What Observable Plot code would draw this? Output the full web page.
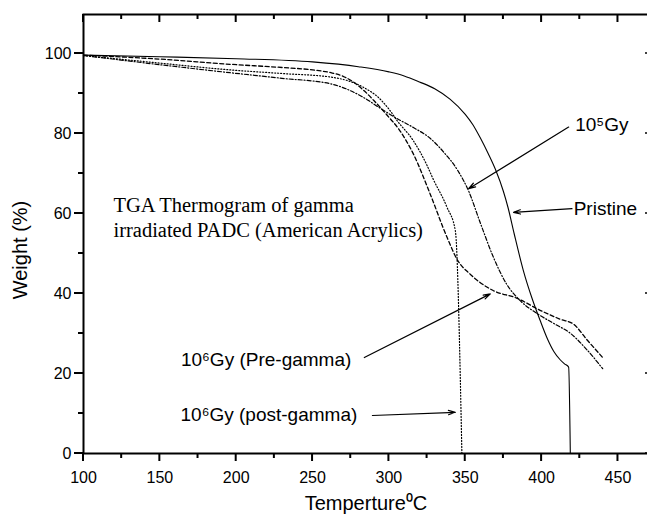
<!DOCTYPE html>
<html><head><meta charset="utf-8">
<script src="https://cdn.jsdelivr.net/npm/d3@7"></script>
<script src="https://cdn.jsdelivr.net/npm/@observablehq/plot@0.6"></script>
<style>
html,body{margin:0;padding:0;background:#fff;}
</style></head><body><div id="chart"></div>
<script>
// ---- data (temperature °C, weight %) ----
const pristineT = [100,150,200,250,280,300,310,320,330,340,350,355,360,365,370,375,378,382,388,394,399,404,408,412,415,417.7,418.8];
const pristineW = [99.6,99.2,98.7,97.9,96.7,95.4,94.4,92.9,91.2,88.6,84.8,82.2,78.8,75,70.8,65.5,61.5,55,45.8,38.5,33.3,28.5,25.5,23.5,22.4,21.6,0];

const preGammaT = [100,150,196,230,250,262,270,277,284,290,299,307,316,327,338,345,353,368,384,399,412,421,430,440];
const preGammaW = [99.6,98.6,97.3,96.5,95.9,95.2,94.3,92.8,90.6,88.3,84.5,80.8,74.9,64.9,54.1,48.3,44.9,40.8,38.8,35.8,33.6,32.3,28.3,24];

const postGammaT = [100,150,196,230,262,283,294,301,305,316,325,329,338,343.5,347.8];
const postGammaW = [99.5,97.6,95.9,95,94.1,91.6,88.7,85.6,83.4,78.2,72,68.6,61.6,55.7,0];

const gy5T = [100,150,196,230,262,283,294,305,316,327,336,345,352,360,368.5,377,386,397,408,419,430,440];
const gy5W = [99.5,97.2,95.2,93.8,92.4,89.1,86.4,83.8,81.5,78.8,75.3,70.8,65.8,57.5,49,42.4,38.2,35,32.5,30,25.8,21.2];

const xMajorTicks = [100,150,200,250,300,350,400,450];
const xMinorTicks = [125,175,225,275,325,375,425];
const yMajorTicks = [0,20,40,60,80,100];
const yMinorTicks = [10,30,50,70,90];

const labelTexts = ["10\u2075Gy","Pristine","10\u2076Gy (Pre-gamma)","10\u2076Gy (post-gamma)"];
const labelX = [422,421,275.4,279.3];
const labelY = [82.2,61.2,23.5,9.7];
const labelAnchor = ["start","start","end","end"];

const arrowX1 = [417.7,419.9,283.9,289.2];
const arrowY1 = [81.6,61.2,24,9.5];
const arrowX2 = [352.2,381.6,366.4,343.5];
const arrowY2 = [66.2,60.3,39.9,10.3];

const noteText = "TGA Thermogram of gamma\nirradiated PADC (American Acrylics)";
const noteX = 119.6, noteY = 59.2;

// ---- build tables ----
const mk = (name, T, W) => T.map((t, i) => ({series: name, t, w: W[i]}));
const rows = [
  ...mk("pristine", pristineT, pristineW),
  ...mk("pre", preGammaT, preGammaW),
  ...mk("post", postGammaT, postGammaW),
  ...mk("gy5", gy5T, gy5W)
];
const labels = labelTexts.map((s, i) => ({s, x: labelX[i], y: labelY[i], a: labelAnchor[i]}));
const arrows = arrowX1.map((v, i) => ({x1: v, y1: arrowY1[i], x2: arrowX2[i], y2: arrowY2[i]}));

const sans = "'Liberation Sans', Arial, sans-serif";
const serif = "'Liberation Serif', 'Times New Roman', serif";

const lineOpts = (name, dash, sw) => ({
  filter: d => d.series === name, x: "t", y: "w", stroke: "black",
  strokeWidth: sw, strokeDasharray: dash, curve: "monotone-x"
});

const chart = Plot.plot({
  width: 647, height: 522,
  marginLeft: 83, marginRight: -1, marginTop: 14, marginBottom: 69,
  style: {fontFamily: sans, fontSize: "16px", background: "white"},
  x: {domain: [100, 470]},
  y: {domain: [0, 109.75]},
  marks: [
    Plot.line(rows, lineOpts("pristine", null, 1.1)),
    Plot.line(rows, lineOpts("pre", "4,2.5", 1.3)),
    Plot.line(rows, lineOpts("post", "1,2", 1.2)),
    Plot.line(rows, lineOpts("gy5", "4,2,1,2", 1.2)),
    Plot.frame({stroke: "black", strokeWidth: 2}),
    // tick labels
    Plot.axisX(xMajorTicks, {anchor: "bottom", tickSize: 0, tickPadding: 18, fontSize: 16, label: null}),
    Plot.axisY(yMajorTicks, {anchor: "left", tickSize: 0, tickPadding: 12, fontSize: 16, label: null}),
    // axis titles
    Plot.text(["Weight (%)"], {frameAnchor: "left", textAnchor: "middle", lineAnchor: "middle", dx: -63, dy: 16, rotate: -90, fontSize: 20, fontFamily: sans}),
    Plot.text(["Temperture\u2070C"], {frameAnchor: "bottom", dy: 56, fontSize: 20, fontFamily: sans}),
    // annotations
    Plot.text([noteText], {x: () => noteX, y: () => noteY, textAnchor: "start", lineAnchor: "middle", lineHeight: 1.22, fontSize: 20.5, fontFamily: serif}),
    Plot.arrow(arrows, {x1: "x1", y1: "y1", x2: "x2", y2: "y2", stroke: "black", strokeWidth: 1.2, headLength: 9, headAngle: 35}),
    Plot.text(labels, {filter: d => d.a === "start", x: "x", y: "y", text: "s", textAnchor: "start", fontSize: 19, fontFamily: sans}),
    Plot.text(labels, {filter: d => d.a === "end", x: "x", y: "y", text: "s", textAnchor: "end", fontSize: 19, fontFamily: sans})
  ]
});

// tick marks placed through Plot's own scales
(function () {
  const sx = chart.scale("x"), sy = chart.scale("y");
  const xL = sx.apply(100), xR = sx.apply(470);
  const yB = sy.apply(0), yT = sy.apply(109.75);
  const tg = d3.select(chart).append("g").attr("stroke", "black").attr("fill", "none");
  const seg = (x1, y1, x2, y2, w) => tg.append("line")
    .attr("x1", x1).attr("y1", y1).attr("x2", x2).attr("y2", y2).attr("stroke-width", w);
  xMajorTicks.forEach(v => { const p = sx.apply(v); seg(p, yB, p, yB + 8, 2); seg(p, yT, p, yT + 8, 2); });
  xMinorTicks.forEach(v => { const p = sx.apply(v); seg(p, yB, p, yB + 5, 2); seg(p, yT, p, yT + 5, 2); });
  yMajorTicks.forEach(v => { const p = sy.apply(v); seg(xL - 9, p, xL, p, 2); seg(xR - 3, p, xR, p, 1.5); });
  yMinorTicks.forEach(v => { const p = sy.apply(v); seg(xL - 5, p, xL, p, 2); });
})();

document.getElementById("chart").appendChild(chart);
</script></body></html>
